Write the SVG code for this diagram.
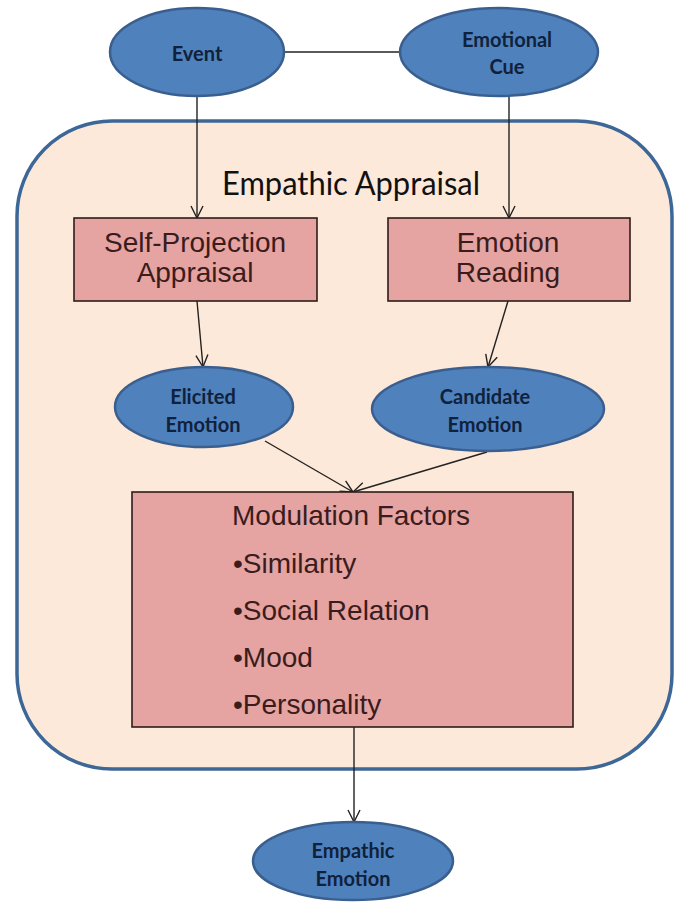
<svg xmlns="http://www.w3.org/2000/svg" width="678" height="904" viewBox="0 0 678 904">
  <defs>
    <marker id="arrow" viewBox="0 0 14 14" refX="13" refY="7" markerWidth="14" markerHeight="14" markerUnits="userSpaceOnUse" orient="auto">
      <path d="M1,1 L13,7 L1,13" fill="none" stroke="#222" stroke-width="1.4"/>
    </marker>
    <style>
      .oval { fill: #4f81bd; stroke: #3a5f8f; stroke-width: 2.5; }
      .box { fill: #e5a3a2; stroke: #2e1c1c; stroke-width: 1.6; }
      .otext { font-family: Lato, "Liberation Sans", sans-serif; font-weight: bold; font-size: 20px; fill: #0f213b; text-anchor: middle; }
      .btext { font-family: "Liberation Sans", Arial, sans-serif; font-size: 28px; fill: #3a1c1c; text-anchor: middle; }
      .ltext { font-family: "Liberation Sans", Arial, sans-serif; font-size: 28px; fill: #3a1c1c; }
      .title { font-family: Lato, "Liberation Sans", sans-serif; font-size: 33px; fill: #111; text-anchor: middle; }
      .conn { fill: none; stroke: #222; stroke-width: 1.4; }
    </style>
  </defs>

  <rect width="678" height="904" fill="#ffffff"/>

  <!-- Empathic Appraisal container -->
  <g id="container">
    <rect x="17" y="121" width="655" height="648" rx="95" ry="95" fill="#fde9d9" stroke="#3c6797" stroke-width="3.5"/>
    <text class="title" x="351" y="195" textLength="258" lengthAdjust="spacingAndGlyphs">Empathic Appraisal</text>
  </g>

  <!-- connectors -->
  <g id="connectors">
    <line class="conn" x1="284" y1="52" x2="400" y2="52"/>
    <line class="conn" x1="197" y1="96" x2="197" y2="218" marker-end="url(#arrow)"/>
    <line class="conn" x1="509" y1="96" x2="509" y2="218" marker-end="url(#arrow)"/>
    <line class="conn" x1="197" y1="301" x2="203" y2="367" marker-end="url(#arrow)"/>
    <line class="conn" x1="508" y1="301" x2="488" y2="367" marker-end="url(#arrow)"/>
    <line class="conn" x1="265" y1="441" x2="353" y2="492" marker-end="url(#arrow)"/>
    <line class="conn" x1="487" y1="452" x2="353" y2="492" marker-end="url(#arrow)"/>
    <line class="conn" x1="354" y1="727" x2="354" y2="822" marker-end="url(#arrow)"/>
  </g>

  <g id="event">
    <ellipse class="oval" cx="197" cy="52" rx="87" ry="44"/>
    <text class="otext" x="197" y="61">Event</text>
  </g>

  <g id="emotional-cue">
    <ellipse class="oval" cx="499" cy="52" rx="99" ry="44"/>
    <text class="otext" x="507" y="47">Emotional</text>
    <text class="otext" x="507" y="74">Cue</text>
  </g>

  <g id="self-projection">
    <rect class="box" x="74" y="218" width="243" height="83"/>
    <text class="btext" x="195" y="252">Self-Projection</text>
    <text class="btext" x="195" y="282">Appraisal</text>
  </g>

  <g id="emotion-reading">
    <rect class="box" x="388" y="218" width="242" height="83"/>
    <text class="btext" x="508" y="252">Emotion</text>
    <text class="btext" x="508" y="282">Reading</text>
  </g>

  <g id="elicited-emotion">
    <ellipse class="oval" cx="204" cy="407" rx="89" ry="40"/>
    <text class="otext" x="203" y="404">Elicited</text>
    <text class="otext" x="203" y="432">Emotion</text>
  </g>

  <g id="candidate-emotion">
    <ellipse class="oval" cx="488" cy="409" rx="116" ry="42"/>
    <text class="otext" x="485" y="404">Candidate</text>
    <text class="otext" x="485" y="432">Emotion</text>
  </g>

  <g id="modulation-factors">
    <rect class="box" x="132" y="492" width="441" height="235"/>
    <text class="ltext" x="232" y="525">Modulation Factors</text>
    <text class="ltext" x="233" y="573">•Similarity</text>
    <text class="ltext" x="233" y="620">•Social Relation</text>
    <text class="ltext" x="233" y="667">•Mood</text>
    <text class="ltext" x="233" y="714">•Personality</text>
  </g>

  <g id="empathic-emotion">
    <ellipse class="oval" cx="353" cy="861" rx="100" ry="39"/>
    <text class="otext" x="353" y="858">Empathic</text>
    <text class="otext" x="353" y="886">Emotion</text>
  </g>
</svg>
